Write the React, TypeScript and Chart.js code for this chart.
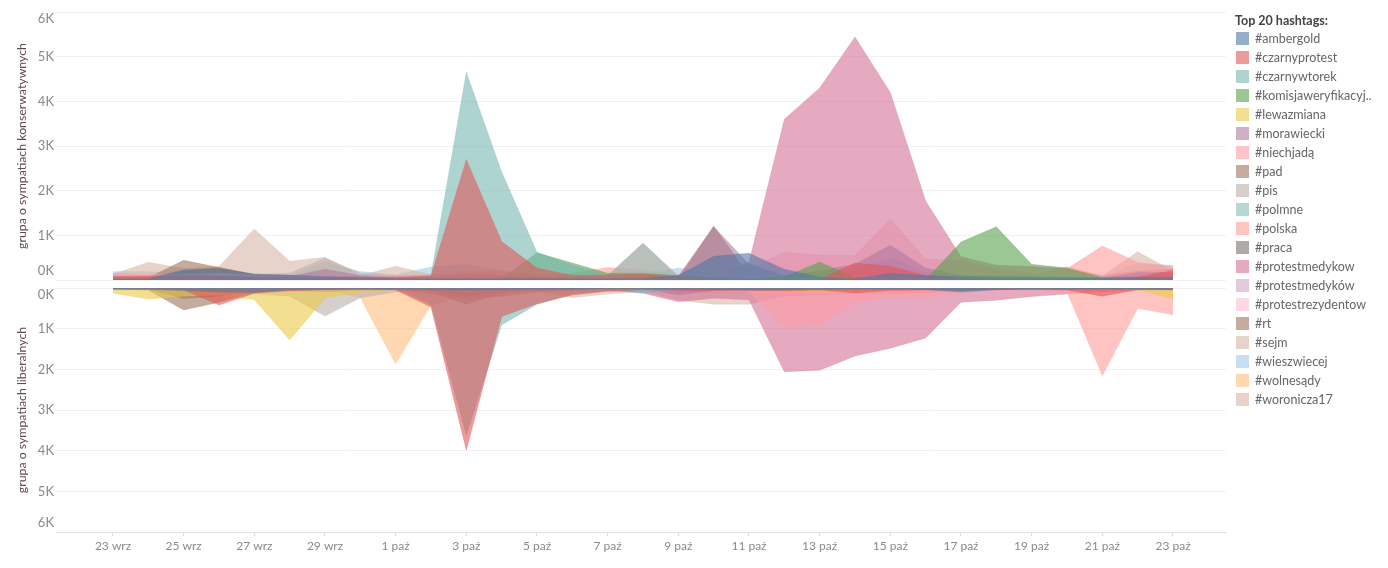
import { useEffect, useRef } from 'react';
import { Chart, registerables } from 'chart.js';

Chart.register(...registerables);

const days = [
  '23 wrz', '24 wrz', '25 wrz', '26 wrz', '27 wrz', '28 wrz', '29 wrz', '30 wrz',
  '1 paź', '2 paź', '3 paź', '4 paź', '5 paź', '6 paź', '7 paź', '8 paź', '9 paź', '10 paź',
  '11 paź', '12 paź', '13 paź', '14 paź', '15 paź', '16 paź', '17 paź', '18 paź', '19 paź',
  '20 paź', '21 paź', '22 paź', '23 paź',
];

const hashtags = [
  '#ambergold', '#czarnyprotest', '#czarnywtorek', '#komisjaweryfikacyj..', '#lewazmiana',
  '#morawiecki', '#niechjadą', '#pad', '#pis', '#polmne', '#polska', '#praca',
  '#protestmedykow', '#protestmedyków', '#protestrezydentow', '#rt', '#sejm',
  '#wieszwiecej', '#wolnesądy', '#woronicza17',
];

const colors = [
  '78,121,167', '225,87,89', '118,183,178', '89,161,79', '237,201,72',
  '176,122,161', '255,157,167', '156,117,95', '186,176,172', '134,188,182', '255,157,154', '121,112,110',
  '211,114,149', '212,166,200', '250,191,210', '157,118,96', '215,181,166',
  '160,203,232', '255,190,125', '215,181,166',
];

// grupa o sympatiach konserwatywnych
const topAmbergold = [30, 30, 230, 250, 130, 110, 70, 60, 30, 30, 30, 30, 30, 30, 30, 40, 100, 530, 600, 240, 60, 20, 150, 100, 70, 60, 60, 50, 50, 60, 60];
const topCzarnyprotest = [80, 90, 100, 90, 60, 50, 40, 40, 60, 90, 2700, 860, 270, 100, 110, 130, 70, 20, 10, 10, 10, 380, 310, 100, 30, 20, 20, 20, 20, 60, 220];
const topCzarnywtorek = [20, 20, 30, 30, 20, 20, 20, 20, 20, 100, 4650, 2420, 620, 330, 100, 50, 40, 30, 30, 20, 20, 20, 20, 20, 20, 20, 20, 20, 20, 20, 30];
const topKomisja = [10, 10, 20, 20, 20, 20, 10, 10, 10, 10, 10, 30, 610, 380, 150, 150, 100, 60, 30, 70, 400, 60, 0, 0, 850, 1190, 350, 270, 50, 40, 30];
const topLewazmiana = [40, 30, 30, 30, 20, 20, 20, 20, 20, 10, 10, 10, 10, 10, 10, 10, 10, 10, 10, 30, 50, 30, 30, 30, 50, 60, 60, 40, 30, 40, 60];
const topMorawiecki = [60, 60, 80, 90, 70, 70, 240, 100, 60, 60, 130, 100, 60, 50, 60, 50, 90, 1190, 350, 100, 200, 350, 780, 270, 100, 80, 70, 50, 40, 170, 170];
const topNiechjada = [150, 130, 120, 150, 100, 80, 80, 70, 100, 120, 130, 150, 100, 80, 130, 100, 90, 100, 100, 70, 60, 60, 70, 60, 60, 50, 50, 50, 40, 180, 200];
const topPad = [30, 50, 440, 280, 120, 100, 80, 70, 40, 40, 50, 50, 40, 40, 50, 40, 60, 60, 60, 50, 50, 60, 60, 50, 70, 70, 60, 40, 30, 60, 80];
const topPis = [100, 90, 120, 150, 130, 150, 490, 150, 100, 120, 150, 130, 80, 70, 90, 820, 100, 150, 100, 80, 90, 100, 110, 90, 120, 130, 120, 130, 70, 120, 110];
const topPolmne = [60, 50, 50, 60, 60, 70, 80, 60, 40, 60, 100, 90, 60, 100, 100, 825, 60, 70, 390, 60, 50, 40, 40, 40, 40, 40, 40, 40, 30, 30, 30];
const topPolska = [80, 80, 90, 100, 70, 70, 60, 60, 90, 100, 200, 180, 100, 150, 280, 230, 120, 100, 100, 60, 60, 60, 60, 60, 60, 60, 60, 250, 760, 400, 300];
const topPraca = [10, 10, 30, 30, 30, 30, 20, 20, 20, 20, 20, 20, 20, 20, 20, 20, 20, 30, 40, 30, 20, 20, 30, 30, 40, 40, 40, 40, 30, 30, 30];
const topProtestmedykow = [40, 40, 50, 60, 50, 50, 60, 40, 40, 50, 60, 50, 40, 40, 60, 60, 60, 100, 400, 3600, 4300, 5440, 4200, 1770, 520, 330, 300, 250, 100, 200, 250];
const topProtestmedykowPl = [20, 20, 30, 30, 30, 20, 30, 20, 20, 20, 30, 30, 20, 20, 20, 20, 30, 50, 40, 60, 100, 250, 500, 180, 70, 50, 40, 30, 30, 60, 60];
const topProtestrezydentow = [20, 20, 20, 20, 20, 20, 20, 20, 20, 20, 20, 20, 20, 20, 30, 30, 20, 30, 250, 620, 560, 550, 1360, 470, 440, 250, 150, 100, 20, 30, 30];
const topRt = [20, 40, 200, 280, 130, 100, 70, 60, 30, 30, 50, 40, 30, 20, 30, 20, 20, 1210, 100, 60, 50, 50, 60, 50, 80, 100, 90, 60, 30, 50, 60];
const topSejm = [130, 400, 260, 300, 1140, 420, 510, 100, 310, 120, 150, 100, 80, 70, 90, 100, 90, 110, 80, 70, 60, 60, 70, 60, 70, 60, 70, 300, 90, 630, 200];
const topWieszwiecej = [190, 190, 130, 150, 100, 90, 400, 190, 120, 290, 350, 200, 120, 100, 100, 100, 270, 120, 100, 70, 70, 60, 60, 50, 50, 50, 50, 60, 60, 370, 330];
const topWolnesady = [40, 30, 30, 30, 30, 30, 30, 50, 100, 60, 40, 30, 20, 20, 20, 20, 20, 20, 20, 20, 30, 30, 30, 30, 30, 30, 30, 30, 20, 30, 30];
const topWoronicza = [40, 40, 60, 70, 80, 60, 50, 40, 30, 30, 30, 30, 20, 20, 20, 20, 20, 20, 20, 30, 30, 30, 30, 30, 30, 30, 60, 100, 30, 60, 60];

// grupa o sympatiach liberalnych
const botAmbergold = [30, 40, 60, 100, 110, 50, 40, 30, 30, 40, 50, 40, 30, 30, 20, 20, 30, 40, 50, 50, 30, 30, 30, 40, 100, 40, 30, 30, 30, 30, 40];
const botCzarnyprotest = [20, 20, 50, 420, 130, 70, 40, 40, 50, 470, 3990, 700, 390, 170, 80, 40, 60, 60, 50, 70, 50, 120, 60, 50, 40, 30, 30, 50, 200, 40, 40];
const botCzarnywtorek = [10, 10, 10, 20, 20, 20, 20, 20, 20, 400, 3620, 910, 400, 150, 70, 120, 40, 30, 30, 20, 20, 20, 20, 20, 20, 20, 20, 20, 20, 20, 30];
const botKomisja = [10, 10, 10, 10, 10, 10, 10, 10, 10, 10, 10, 10, 10, 20, 20, 20, 20, 20, 20, 20, 20, 20, 20, 20, 60, 40, 30, 30, 20, 20, 40];
const botLewazmiana = [130, 270, 200, 170, 290, 1280, 250, 100, 30, 20, 20, 20, 20, 20, 10, 10, 10, 20, 40, 60, 80, 60, 50, 40, 40, 30, 30, 30, 30, 50, 270];
const botMorawiecki = [20, 20, 40, 50, 50, 70, 100, 50, 30, 60, 130, 90, 50, 30, 20, 20, 170, 60, 70, 60, 60, 50, 40, 40, 40, 30, 30, 30, 30, 20, 20];
const botNiechjada = [20, 20, 20, 20, 20, 20, 20, 20, 20, 30, 30, 30, 30, 20, 20, 20, 40, 60, 100, 950, 930, 360, 230, 250, 100, 60, 40, 30, 30, 30, 30];
const botPad = [40, 50, 540, 350, 100, 50, 40, 40, 30, 60, 200, 100, 50, 30, 20, 20, 40, 50, 40, 30, 30, 30, 20, 20, 20, 20, 20, 20, 20, 20, 20];
const botPis = [30, 40, 100, 130, 150, 200, 690, 240, 100, 60, 100, 80, 50, 40, 20, 20, 40, 60, 50, 40, 40, 30, 30, 30, 40, 30, 30, 20, 20, 30, 30];
const botPolmne = [10, 10, 10, 10, 10, 10, 10, 10, 10, 40, 70, 50, 30, 30, 30, 60, 30, 20, 20, 10, 10, 10, 10, 10, 10, 10, 10, 10, 10, 10, 10];
const botPolska = [20, 20, 20, 20, 30, 30, 30, 20, 20, 30, 100, 80, 40, 30, 20, 20, 50, 80, 100, 150, 150, 100, 80, 60, 50, 40, 40, 100, 2160, 500, 660];
const botPraca = [10, 10, 20, 20, 30, 20, 20, 10, 10, 20, 20, 20, 10, 10, 10, 10, 20, 20, 20, 30, 30, 20, 20, 20, 50, 30, 20, 20, 20, 20, 30];
const botProtestmedykow = [10, 10, 10, 20, 20, 20, 20, 20, 20, 150, 280, 200, 100, 60, 30, 130, 340, 250, 290, 2060, 2020, 1670, 1480, 1230, 350, 300, 210, 150, 100, 50, 40];
const botProtestmedykowPl = [10, 10, 10, 10, 10, 10, 10, 10, 10, 30, 40, 30, 20, 20, 10, 20, 60, 50, 60, 200, 180, 150, 130, 120, 50, 40, 30, 20, 20, 10, 10];
const botProtestrezydentow = [10, 10, 10, 10, 10, 10, 10, 10, 10, 20, 20, 20, 20, 10, 10, 10, 30, 40, 50, 90, 100, 80, 70, 50, 30, 20, 20, 10, 10, 10, 10];
const botRt = [20, 30, 260, 200, 80, 40, 30, 30, 30, 80, 400, 120, 60, 40, 20, 20, 30, 40, 40, 30, 30, 30, 20, 20, 20, 20, 20, 20, 20, 20, 20];
const botSejm = [20, 20, 30, 40, 60, 60, 50, 40, 30, 50, 100, 80, 60, 240, 150, 80, 300, 400, 400, 200, 100, 80, 60, 50, 40, 30, 30, 30, 30, 30, 30];
const botWieszwiecej = [10, 10, 10, 10, 20, 20, 20, 20, 20, 20, 30, 20, 20, 20, 10, 10, 20, 20, 20, 20, 20, 20, 20, 20, 20, 20, 20, 20, 20, 20, 20];
const botWolnesady = [10, 10, 10, 10, 20, 30, 40, 240, 1870, 420, 200, 100, 50, 30, 20, 10, 20, 20, 20, 20, 20, 20, 20, 20, 20, 20, 20, 20, 20, 20, 20];
const botWoronicza = [10, 10, 10, 10, 10, 20, 20, 20, 20, 30, 50, 40, 30, 70, 40, 20, 60, 120, 110, 50, 40, 30, 20, 20, 20, 20, 20, 20, 20, 20, 20];

const topSeries = [
  topAmbergold, topCzarnyprotest, topCzarnywtorek, topKomisja, topLewazmiana, topMorawiecki, topNiechjada,
  topPad, topPis, topPolmne, topPolska, topPraca, topProtestmedykow, topProtestmedykowPl, topProtestrezydentow,
  topRt, topSejm, topWieszwiecej, topWolnesady, topWoronicza,
];
const botSeries = [
  botAmbergold, botCzarnyprotest, botCzarnywtorek, botKomisja, botLewazmiana, botMorawiecki, botNiechjada,
  botPad, botPis, botPolmne, botPolska, botPraca, botProtestmedykow, botProtestmedykowPl, botProtestrezydentow,
  botRt, botSejm, botWieszwiecej, botWolnesady, botWoronicza,
];

const FONT = 'Lato';
const TICK_COLOR = '#8a8a8a';

// tableau keeps the first and last y labels inside the axis range
const clampedYLabels = {
  id: 'clampedYLabels',
  afterDraw(chart: Chart) {
    const { ctx } = chart;
    const scale = chart.scales.y;
    ctx.save();
    ctx.font = `13px ${FONT}`;
    ctx.fillStyle = TICK_COLOR;
    ctx.textAlign = 'right';
    ctx.textBaseline = 'middle';
    scale.ticks.forEach((t) => {
      const py = scale.getPixelForValue(t.value);
      const y = Math.min(Math.max(py, scale.top + 7), scale.bottom - 9);
      ctx.fillText(`${t.value / 1000}K`, 54, y);
    });
    ctx.restore();
  },
};

function makeChart(canvas: HTMLCanvasElement, series: number[][], below: boolean) {
  return new Chart(canvas, {
    type: 'line',
    data: {
      datasets: series.map((vals, i) => ({
        label: hashtags[i],
        data: vals.map((v, d) => ({ x: d, y: v })),
        borderColor: `rgba(${colors[i]},0.25)`,
        backgroundColor: `rgba(${colors[i]},0.6)`,
        borderWidth: 1,
        fill: 'origin',
        tension: 0,
        pointRadius: 0,
      })),
    },
    options: {
      responsive: false,
      animation: false,
      devicePixelRatio: 1,
      layout: below
        ? { padding: { top: 4, right: 162, bottom: 0, left: 0 } }
        : { padding: { top: 12, right: 162, bottom: 5, left: 0 } },
      plugins: { legend: { display: false }, tooltip: { enabled: false } },
      scales: {
        x: {
          type: 'linear',
          display: below,
          min: -1.613,
          max: 31.5,
          grid: { drawOnChartArea: false, color: '#dcdcdc', tickLength: 4 },
          border: { color: '#e2e2e2' },
          ticks: {
            stepSize: 2,
            includeBounds: false,
            autoSkip: false,
            maxRotation: 0,
            padding: 3,
            color: TICK_COLOR,
            font: { family: FONT, size: 12 },
            callback: (v) => days[Number(v)],
          },
          afterFit: (s) => { s.height = below ? 36 : 0; },
        },
        y: {
          min: 0,
          max: 6000,
          reverse: below,
          grid: { color: '#f1f1f1', drawTicks: false },
          border: { display: false },
          ticks: { stepSize: 1000, display: false },
          title: {
            display: true,
            text: below ? 'grupa o sympatiach liberalnych' : 'grupa o sympatiach konserwatywnych',
            color: '#5f4a55',
            font: { family: FONT, size: 12.3 },
            padding: { top: 15, bottom: 0 },
          },
          afterFit: (s) => { s.width = 56; },
        },
      },
    },
    plugins: [clampedYLabels],
  });
}

export default function App() {
  const topRef = useRef<HTMLCanvasElement>(null);
  const botRef = useRef<HTMLCanvasElement>(null);

  useEffect(() => {
    if (!topRef.current || !botRef.current) return;
    const top = makeChart(topRef.current, topSeries, false);
    const bot = makeChart(botRef.current, botSeries, true);
    return () => {
      top.destroy();
      bot.destroy();
    };
  }, []);

  return (
    <div style={{ position: 'fixed', left: 0, top: 0, width: 1388, height: 568, background: '#fff', fontFamily: FONT, overflow: 'hidden' }}>
      <canvas ref={topRef} width={1388} height={285} style={{ position: 'absolute', left: 0, top: 0 }} />
      <canvas ref={botRef} width={1388} height={284} style={{ position: 'absolute', left: 0, top: 284 }} />
      <div style={{ position: 'absolute', left: 1235, top: 13, fontSize: 12.5, fontWeight: 700, color: '#444' }}>Top 20 hashtags:</div>
      {hashtags.map((h, i) => (
        <div key={h} style={{ position: 'absolute', left: 1236, top: 32 + i * 19, height: 13, display: 'flex', alignItems: 'center', whiteSpace: 'nowrap' }}>
          <span style={{ width: 13, height: 13, background: `rgba(${colors[i]},0.6)`, marginRight: 6 }} />
          <span style={{ fontSize: 12.5, color: '#666' }}>{h}</span>
        </div>
      ))}
    </div>
  );
}
